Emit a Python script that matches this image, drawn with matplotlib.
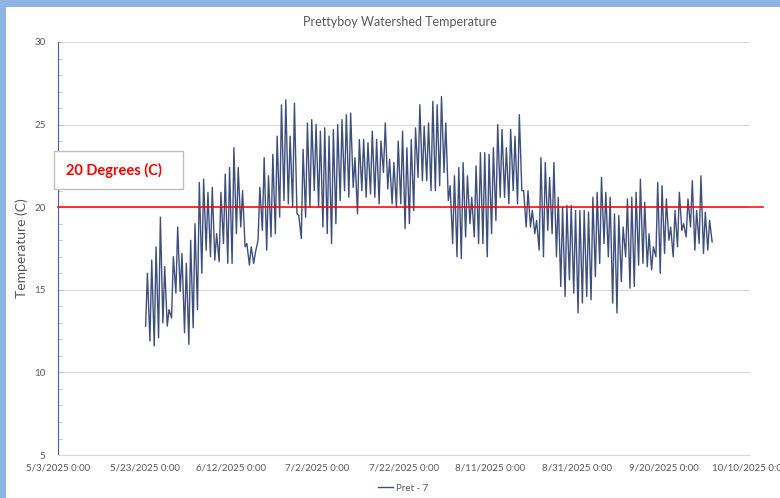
import matplotlib
matplotlib.use('Agg')
import matplotlib.pyplot as plt
import matplotlib.dates as mdates
from matplotlib.patches import Rectangle
from matplotlib.ticker import MultipleLocator, FuncFormatter
import pandas as pd

plt.rcParams['font.family'] = ['Lato', 'DejaVu Sans']

title = 'Prettyboy Watershed Temperature'
series_name = 'Pret - 7'
y_label = 'Temperature (C)'
first_day = '2025-05-23'

# daily low (morning) and high (afternoon) readings
daily_min = [12.8, 11.9, 11.6, 12.1, 13.0, 12.8, 13.3, 14.8, 14.9, 12.4,
             11.7, 12.7, 13.8, 16.0, 17.4, 17.0, 16.8, 16.7, 17.8, 16.6,
             16.6, 18.4, 18.8, 17.6, 16.5, 16.6, 18.0, 18.6, 17.4, 18.2,
             18.4, 19.4, 20.4, 20.2, 20.0, 19.6, 18.1, 19.4, 20.0, 21.0,
             20.0, 18.8, 18.4, 17.8, 19.0, 20.4, 21.0, 20.6, 21.2, 19.6,
             21.0, 20.6, 20.8, 20.6, 20.2, 22.1, 21.1, 20.2, 20.0, 20.2,
             18.7, 19.0, 19.8, 21.8, 21.6, 21.6, 21.0, 21.0, 21.3, 22.1,
             20.4, 17.8, 17.0, 16.9, 18.2, 19.0, 18.2, 17.8, 17.8, 17.0,
             18.4, 19.2, 20.6, 20.6, 20.2, 21.0, 20.2, 21.0, 18.8, 18.8,
             18.4, 17.4, 17.0, 18.6, 18.4, 17.0, 15.2, 14.6, 15.6, 14.8,
             13.6, 14.2, 14.6, 14.4, 15.8, 16.6, 17.8, 17.0, 14.2, 13.6,
             15.5, 17.0, 15.1, 15.2, 16.5, 16.6, 16.4, 16.2, 17.0, 16.0,
             17.2, 18.0, 17.0, 17.6, 18.6, 18.2, 18.8, 17.4, 17.8, 17.2,
             17.4]
daily_max = [16.0, 16.8, 17.6, 19.4, 16.4, 13.8, 17.0, 18.8, 17.2, 16.6,
             18.0, 19.0, 21.5, 21.7, 20.9, 21.2, 18.4, 20.9, 22.0, 22.4,
             23.6, 22.4, 21.0, 17.8, 17.6, 17.3, 21.2, 23.0, 21.9, 23.2,
             24.3, 26.2, 26.5, 24.3, 26.3, 19.5, 23.5, 25.1, 25.3, 25.0,
             24.6, 24.8, 24.3, 24.7, 25.0, 25.3, 25.6, 25.7, 23.0, 24.1,
             24.1, 23.9, 24.6, 24.1, 24.0, 25.1, 22.9, 22.7, 24.0, 24.6,
             23.6, 24.1, 24.8, 26.2, 24.9, 25.1, 26.4, 26.2, 26.7, 25.1,
             21.3, 21.9, 22.4, 22.7, 21.9, 20.6, 22.5, 23.3, 23.3, 23.2,
             23.6, 25.0, 24.7, 23.6, 24.7, 24.3, 25.6, 21.0, 21.0, 19.8,
             19.2, 23.0, 22.7, 21.8, 22.7, 20.6, 20.0, 20.1, 20.1, 19.8,
             19.8, 19.8, 19.7, 20.6, 20.9, 21.8, 20.9, 20.6, 19.6, 19.5,
             18.8, 20.5, 20.6, 20.9, 21.7, 20.3, 18.4, 17.6, 21.5, 21.3,
             20.5, 18.8, 19.8, 20.9, 19.0, 20.5, 21.6, 19.8, 21.9, 19.7,
             19.2]
last_reading = 17.9

threshold = 20
threshold_label = '20 Degrees (C)'
x_start, x_end = '2025-05-03', '2025-10-10'
y_min, y_max = 5, 30

days = pd.date_range(first_day, periods=len(daily_max), freq='D')
times, temps = [], []
for day, lo, hi in zip(days, daily_min, daily_max):
    times += [day + pd.Timedelta(hours=6), day + pd.Timedelta(hours=16)]
    temps += [lo, hi]
times.append(days[-1] + pd.Timedelta(hours=30))
temps.append(last_reading)

fig = plt.figure(figsize=(7.8, 4.98), dpi=100)
ax = fig.add_axes([0.0744, 0.0863, 0.8871, 0.8294])

gray = '#595959'
ax.plot(times, temps, color='#3E4E7E', lw=1.0, label=series_name)
ax.axhline(threshold, xmin=0, xmax=1.019, color='#FF0000', lw=1.1, clip_on=False, zorder=3)

ax.set_xlim(pd.Timestamp(x_start), pd.Timestamp(x_end))
ax.set_ylim(y_min, y_max)
ticks = pd.date_range(x_start, x_end, freq='20D')
ax.set_xticks(ticks)
ax.xaxis.set_major_formatter(FuncFormatter(
    lambda v, p: (lambda d: f'{d.month}/{d.day}/{d.year} 0:00')(mdates.num2date(v))))
ax.yaxis.set_major_locator(MultipleLocator(5))
ax.yaxis.set_minor_locator(MultipleLocator(1))

ax.grid(axis='y', color='#D9D9D9', lw=0.8)
ax.set_axisbelow(True)
for s in ['top', 'right']:
    ax.spines[s].set_visible(False)
ax.spines['bottom'].set_color('#D9D9D9')
ax.spines['left'].set_color('#4A5AB0')
ax.spines['left'].set_linewidth(0.8)
ax.tick_params(axis='x', length=0, labelsize=7, labelcolor=gray, pad=6)
ax.tick_params(axis='y', which='both', direction='in', length=3, color='#BFBFBF',
               labelsize=7, labelcolor=gray, pad=9)

ax.set_ylabel(y_label, fontsize=10, color=gray)
ax.yaxis.set_label_coords(-0.043, 0.5)
fig.text(0.513, 0.956, title, ha='center', va='center', fontsize=9, color=gray)

# threshold note box
fig.patches.append(Rectangle((54 / 780, 1 - 189 / 498), 129 / 780, 38 / 498,
                             transform=fig.transFigure, facecolor='white',
                             edgecolor='#BFBFBF', lw=1, zorder=5))
fig.text(66 / 780, 1 - 170 / 498, threshold_label, ha='left', va='center',
         fontsize=10.5, fontweight='bold', color='#FF0000', zorder=6)

fig.legend(loc='center', bbox_to_anchor=(0.517, 0.02), frameon=False,
           fontsize=7, labelcolor=gray, handlelength=1.6, handletextpad=0.3)

# page background showing at the top and left edges
fig.patches.append(Rectangle((0, 1 - 7 / 498), 1, 7 / 498, transform=fig.transFigure,
                             facecolor='#8EB4E3', edgecolor='none'))
fig.patches.append(Rectangle((0, 0), 6 / 780, 1, transform=fig.transFigure,
                             facecolor='#8EB4E3', edgecolor='none'))

fig.savefig('out.png', dpi=100)
